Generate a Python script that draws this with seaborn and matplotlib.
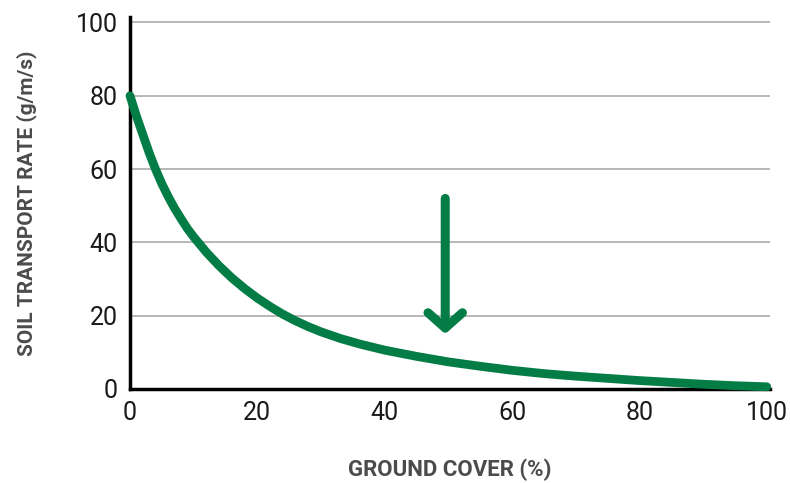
import numpy as np
import pandas as pd
import seaborn as sns
import matplotlib.pyplot as plt

# Values
ground_cover = [0, 1, 2, 3, 4, 5, 6, 7, 8, 9, 10, 12, 14, 16, 18, 20, 22, 24, 26, 28, 30,
                33, 36, 40, 45, 50, 55, 60, 65, 70, 75, 80, 85, 90, 95, 100]
transport_rate = [80, 74.5, 69.5, 64.5, 60, 56, 52.5, 49.3, 46.5, 43.8, 41.5, 37.3, 33.6,
                  30.3, 27.4, 24.8, 22.5, 20.4, 18.6, 17, 15.6, 13.8, 12.3, 10.6, 8.9, 7.4,
                  6.2, 5.1, 4.2, 3.5, 2.9, 2.3, 1.8, 1.3, 0.9, 0.6]
x_ticks = [0, 20, 40, 60, 80, 100]
y_ticks = [0, 20, 40, 60, 80, 100]

# arrow annotation (data coords)
arrow_x = 49.5
arrow_top = 52
arrow_bottom = 15

green = '#037c46'
label_grey = '#4b4b4d'
tick_tan = '#b59f80'

df = pd.DataFrame({'cover': ground_cover, 'rate': transport_rate})

sns.set_style('white')
plt.rcParams['font.family'] = ['Roboto', 'DejaVu Sans']

fig = plt.figure(figsize=(7.9, 4.83), dpi=100)
ax = fig.add_axes([130 / 790, 1 - 389 / 483, 640 / 790, 372 / 483])

sns.lineplot(data=df, x='cover', y='rate', color=green, lw=6.3, ax=ax,
             solid_capstyle='round', solid_joinstyle='round', clip_on=False, zorder=5)

ax.annotate('', xy=(arrow_x, arrow_bottom), xytext=(arrow_x, arrow_top),
            arrowprops=dict(arrowstyle='->,head_length=0.55,head_width=0.62',
                            mutation_scale=20, lw=6.5, color=green,
                            capstyle='round', joinstyle='round',
                            shrinkA=0, shrinkB=0))

ax.set_xlim(0, 100.5)
ax.set_ylim(0, 101.5)
ax.set_xticks(x_ticks)
ax.set_yticks(y_ticks)
ax.yaxis.grid(True, color='#ababab', lw=1.2)
ax.xaxis.grid(False)
ax.set_axisbelow(True)

for s in ['top', 'right']:
    ax.spines[s].set_visible(False)
for s in ['left', 'bottom']:
    ax.spines[s].set_color('black')
    ax.spines[s].set_linewidth(2.5)
    ax.spines[s].set_zorder(4)

ax.tick_params(axis='both', which='major', direction='out', length=5, width=1.5,
               color=tick_tan, labelsize=18, labelcolor='#1a1a1a', pad=4)

ax.set_xlabel('GROUND COVER (%)', fontsize=16, fontweight='bold', color=label_grey, labelpad=24)
ax.set_ylabel('SOIL TRANSPORT RATE (g/m/s)', fontsize=15, fontweight='bold', color=label_grey, labelpad=28)

fig.savefig('out.png', dpi=100)
